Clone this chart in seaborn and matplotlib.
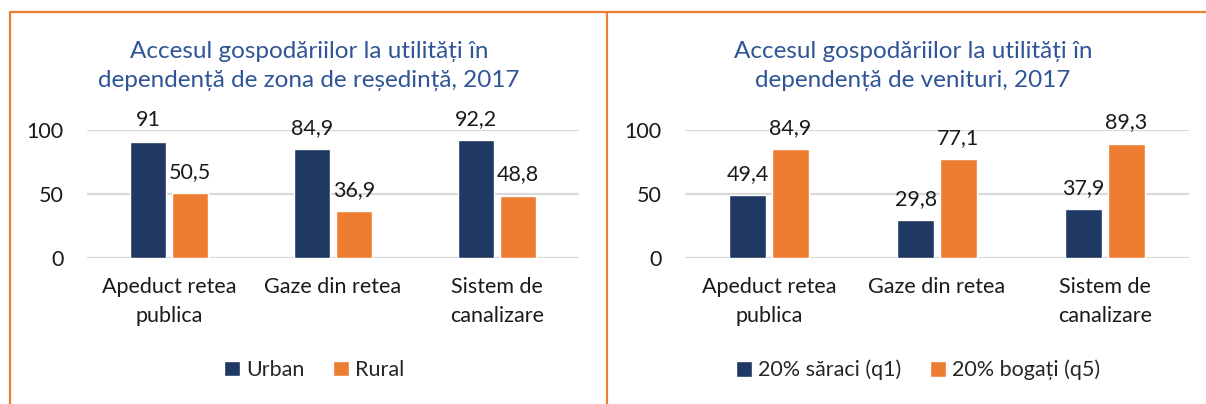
import pandas as pd
import numpy as np
import matplotlib
matplotlib.use('Agg')
import matplotlib.pyplot as plt
import seaborn as sns
from matplotlib.lines import Line2D

categories = ['Apeduct retea\npublica', 'Gaze din retea', 'Sistem de\ncanalizare']

zone_groups = ['Urban', 'Rural']
urban = [91, 84.9, 92.2]
rural = [50.5, 36.9, 48.8]

income_groups = ['20% săraci (q1)', '20% bogați (q5)']
poor = [49.4, 29.8, 37.9]
rich = [84.9, 77.1, 89.3]

titles = ['Accesul gospodăriilor la utilități în\ndependență de zona de reședință, 2017',
          'Accesul gospodăriilor la utilități în\ndependență de venituri, 2017']

navy = '#203864'
orange = '#ED7D31'
title_blue = '#2F5597'

sns.set_theme(style='white')
plt.rcParams['font.family'] = ['Lato', 'DejaVu Sans']

W, H = 1206, 404
fig = plt.figure(figsize=(W / 100, H / 100), dpi=100)


def px_axes(x0, y_top, x1, y_bot):
    return fig.add_axes([x0 / W, 1 - y_bot / H, (x1 - x0) / W, (y_bot - y_top) / H])


def fmt(v):
    s = f'{v:g}'
    return s.replace('.', ',')


def panel(ax, groups, s1, s2, title, title_x, legend_x):
    df = pd.DataFrame({
        'cat': categories * 2,
        'grp': [groups[0]] * 3 + [groups[1]] * 3,
        'val': s1 + s2,
    })
    sns.barplot(data=df, x='cat', y='val', hue='grp', order=categories,
                hue_order=groups, palette=[navy, orange], width=0.51, gap=0.12,
                saturation=1, ax=ax, legend=True)
    for cont in ax.containers:
        ax.bar_label(cont, labels=[fmt(b.get_height()) for b in cont],
                     padding=8, fontsize=15.5, color='#1a1a1a')
    ax.set_ylim(0, 100)
    ax.set_yticks([0, 50, 100])
    ax.set_yticklabels(['0', '50', '100'], fontsize=15.5, color='#1a1a1a')
    ax.set_xticks(range(len(categories)))
    ax.set_xticklabels(categories, fontsize=15.5, color='#1a1a1a', linespacing=1.55)
    ax.yaxis.grid(True, color='#D9D9D9', linewidth=1.6)
    ax.set_axisbelow(True)
    ax.tick_params(axis='x', pad=14, length=0)
    ax.tick_params(axis='y', pad=17, length=0)
    for sp in ax.spines.values():
        sp.set_visible(False)
    ax.set_xlabel('')
    ax.set_ylabel('')
    for b in ax.patches:
        b.set_clip_on(False)
    handles, labels = ax.get_legend_handles_labels()
    ax.get_legend().remove()
    fig.legend(handles, labels, loc='center', bbox_to_anchor=(legend_x / W, 1 - 370 / H),
               ncol=2, frameon=False, fontsize=15.5, handlelength=0.75, handleheight=0.75,
               handletextpad=0.3, columnspacing=1.3)
    fig.text(title_x / W, 1 - 66 / H, title, ha='center', va='center',
             fontsize=17.5, color=title_blue, linespacing=1.5)


ax1 = px_axes(87, 130, 579, 258)
panel(ax1, zone_groups, urban, rural, titles[0], 309, 314)
ax2 = px_axes(685, 130, 1189, 258)
panel(ax2, income_groups, poor, rich, titles[1], 913, 918)

# orange frame lines
lw = 1.6
fig.add_artist(Line2D([10 / W, 1], [1 - 12 / H, 1 - 12 / H], color=orange, lw=lw,
                      transform=fig.transFigure))
fig.add_artist(Line2D([10 / W, 10 / W], [0, 1 - 12 / H], color=orange, lw=lw,
                      transform=fig.transFigure))
fig.add_artist(Line2D([607 / W, 607 / W], [0, 1 - 12 / H], color=orange, lw=lw,
                      transform=fig.transFigure))

fig.savefig('out.png', dpi=100, facecolor='white')
